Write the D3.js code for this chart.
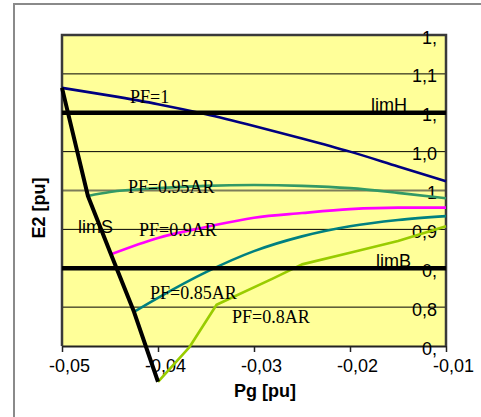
<!DOCTYPE html>
<html><head><meta charset="utf-8">
<script src="https://cdn.jsdelivr.net/npm/d3@7"></script>
<style>body{margin:0;background:#fff} svg{display:block}</style>
</head><body><svg id="c" width="481" height="417"></svg>
<script>
const xTicks = [-0.05, -0.04, -0.03, -0.02, -0.01];
const xTickLabels = ["-0,05", "-0,04", "-0,03", "-0,02", "-0,01"];
const yTicks = [1.2, 1.15, 1.1, 1.05, 1.0, 0.95, 0.9, 0.85, 0.8];
const yTickLabels = ["1,", "1,1", "1,", "1,0", "1", "0,9", "0,", "0,8", "0,"];

const pf1X = [-0.05, -0.045, -0.04, -0.035, -0.03, -0.025, -0.02, -0.015, -0.01];
const pf1Y = [1.132, 1.122, 1.111, 1.098, 1.083, 1.067, 1.050, 1.031, 1.012];
const pf095X = [-0.0473, -0.045, -0.04, -0.035, -0.03, -0.025, -0.02, -0.015, -0.01];
const pf095Y = [0.993, 0.998, 1.003, 1.006, 1.007, 1.006, 1.003, 0.997, 0.990];
const pf09X = [-0.0449, -0.04, -0.035, -0.03, -0.025, -0.02, -0.015, -0.01];
const pf09Y = [0.918, 0.939, 0.953, 0.965, 0.971, 0.976, 0.978, 0.978];
const pf085X = [-0.0425, -0.04, -0.035, -0.03, -0.025, -0.02, -0.015, -0.01];
const pf085Y = [0.844, 0.862, 0.895, 0.922, 0.941, 0.954, 0.962, 0.967];
const pf08X = [-0.04, -0.0367, -0.0339, -0.028, -0.025, -0.02, -0.015, -0.01];
const pf08Y = [0.754, 0.799, 0.853, 0.887, 0.905, 0.920, 0.935, 0.954];
const limSX = [-0.05, -0.0473, -0.0449, -0.0425, -0.04];
const limSY = [1.132, 0.993, 0.918, 0.844, 0.754];
const limX = [-0.05, -0.01];
const limHY = [1.1, 1.1];
const limBY = [0.9, 0.9];

const svg = d3.select("#c");
const x = d3.scaleLinear([-0.05, -0.01], [62, 446]);
const y = d3.scaleLinear([0.8, 1.2], [346, 35]);
const sans = "'Liberation Sans', Arial, sans-serif";
const serif = "'Liberation Serif', 'Times New Roman', serif";

// outer chart frame
svg.append("path").attr("d", "M14,417V4H481").attr("fill", "none")
  .attr("stroke", "#8a8a8a").attr("stroke-width", 2);

// plot area
svg.append("rect").attr("x", x(-0.05)).attr("y", y(1.2))
  .attr("width", x(-0.01) - x(-0.05)).attr("height", y(0.8) - y(1.2))
  .attr("fill", "#FFFF99");

// gridlines
svg.append("g").selectAll("line").data(yTicks.filter(v => v < 1.2 && v > 0.8)).join("line")
  .attr("x1", x(-0.05)).attr("x2", x(-0.01))
  .attr("y1", d => y(d)).attr("y2", d => y(d))
  .attr("stroke", d => d === 1.0 ? "#7d7d5a" : "#000")
  .attr("stroke-width", d => d === 1.0 ? 2 : 1);

// bottom axis
const xa = svg.append("g").attr("transform", `translate(0,${y(0.8)})`)
  .call(d3.axisBottom(x).tickValues(xTicks).tickSize(6).tickSizeOuter(0)
    .tickFormat((d, i) => xTickLabels[i]));
xa.select(".domain").attr("stroke", "#222").attr("stroke-width", 2);
xa.selectAll(".tick line").attr("stroke", "#222").attr("stroke-width", 1.5);
xa.selectAll(".tick text").attr("font-family", sans).attr("font-size", 18)
  .attr("fill", "#000").attr("dx", 7).attr("y", 13).attr("dy", "0.71em");

// plot border (left, top, right)
svg.append("path")
  .attr("d", `M${x(-0.05)},${y(0.8)}V${y(1.2)}H${x(-0.01)}V${y(0.8)}`)
  .attr("fill", "none").attr("stroke", "#3a3a3a").attr("stroke-width", 2.5);

// right value axis labels (inside)
const ya = svg.append("g").attr("transform", `translate(${x(-0.01)},0)`)
  .call(d3.axisLeft(y).tickValues(yTicks).tickSize(0).tickPadding(9)
    .tickFormat((d, i) => yTickLabels[i]));
ya.select(".domain").remove();
ya.selectAll(".tick text").attr("font-family", sans).attr("font-size", 18)
  .attr("fill", "#000").attr("dy", "0.45em");

// series
const smooth = d3.line().x(d => x(d[0])).y(d => y(d[1])).curve(d3.curveMonotoneX);
const straight = d3.line().x(d => x(d[0])).y(d => y(d[1]));
const zip = (a, b) => a.map((v, i) => [v, b[i]]);
const series = [
  {xs: pf1X, ys: pf1Y, c: "#000080", w: 2.6, s: true},
  {xs: pf095X, ys: pf095Y, c: "#339966", w: 2.6, s: true},
  {xs: pf09X, ys: pf09Y, c: "#FF00FF", w: 2.6, s: true},
  {xs: pf085X, ys: pf085Y, c: "#008080", w: 2.6, s: true},
  {xs: pf08X, ys: pf08Y, c: "#99CC00", w: 2.6, s: false},
  {xs: limX, ys: limHY, c: "#000", w: 4.5, s: false},
  {xs: limX, ys: limBY, c: "#000", w: 4.5, s: false},
  {xs: limSX, ys: limSY, c: "#000", w: 4, s: false}
];
svg.append("g").selectAll("path").data(series).join("path")
  .attr("d", s => (s.s ? smooth : straight)(zip(s.xs, s.ys)))
  .attr("fill", "none").attr("stroke", s => s.c).attr("stroke-width", s => s.w)
  .attr("stroke-linejoin", "round");

// data labels
const labels = [
  {t: "PF=1", x: pf1X[0], y: pf1Y[0], dx: 68, dy: 15, f: serif},
  {t: "PF=0.95AR", x: pf095X[0], y: pf095Y[0], dx: 40, dy: -3, f: serif},
  {t: "PF=0.9AR", x: pf09X[0], y: pf09Y[0], dx: 28, dy: -18, f: serif},
  {t: "PF=0.85AR", x: pf085X[0], y: pf085Y[0], dx: 16, dy: -13, f: serif},
  {t: "PF=0.8AR", x: pf08X[0], y: pf08Y[0], dx: 74, dy: -59, f: serif},
  {t: "limH", x: -0.01, y: 1.1, dx: -75, dy: -2, f: sans},
  {t: "limB", x: -0.01, y: 0.9, dx: -70, dy: -1, f: sans},
  {t: "limS", x: -0.05, y: 0.95, dx: 16, dy: 4, f: sans}
];
svg.append("g").selectAll("text").data(labels).join("text")
  .attr("x", d => x(d.x) + d.dx).attr("y", d => y(d.y) + d.dy)
  .attr("font-family", d => d.f).attr("font-size", 18).attr("fill", "#000")
  .text(d => d.t);

// axis titles
svg.append("text").attr("x", 265).attr("y", 397).attr("text-anchor", "middle")
  .attr("font-family", sans).attr("font-size", 18).attr("font-weight", "bold")
  .text("Pg [pu]");
svg.append("text").attr("transform", "translate(45,208) rotate(-90)")
  .attr("text-anchor", "middle").attr("font-family", sans).attr("font-size", 18)
  .attr("font-weight", "bold").text("E2 [pu]");
</script></body></html>
